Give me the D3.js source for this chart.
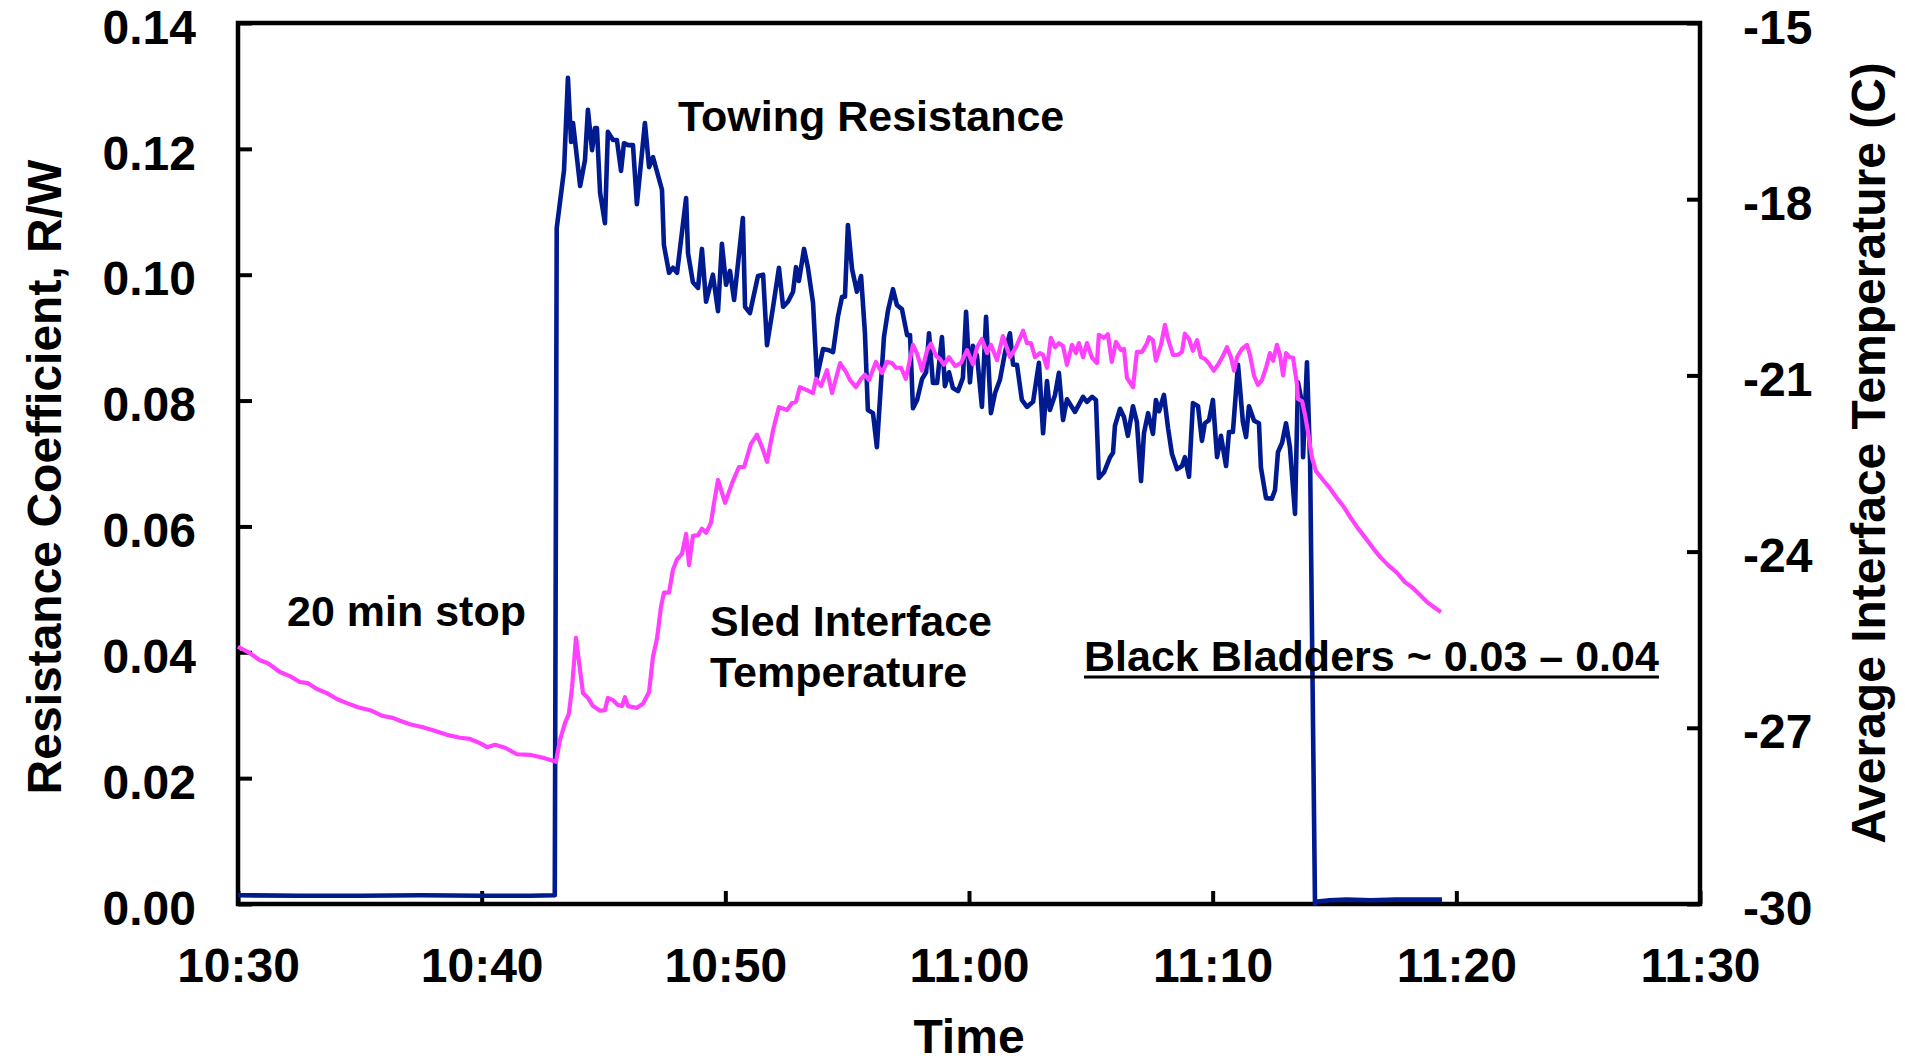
<!DOCTYPE html>
<html>
<head>
<meta charset="utf-8">
<script src="https://cdn.jsdelivr.net/npm/d3@7"></script>
<style>
  body { margin: 0; background: #fff; }
  svg text { font-family: "Liberation Sans", Arial, sans-serif; font-weight: bold; fill: #000; }
</style>
</head>
<body>
<div id="chart"></div>
<script>
// tick labels
const xTickLabels = ["10:30", "10:40", "10:50", "11:00", "11:10", "11:20", "11:30"];
const leftTicks = [0, 0.02, 0.04, 0.06, 0.08, 0.10, 0.12, 0.14];
const rightTicks = [-30, -27, -24, -21, -18, -15];

// towing resistance R/W : [minutes after 10:30, value]
const resistance = [
  [0,0.0014],[2.5,0.0013],[5,0.0013],[7.5,0.0014],[10,0.0013],[12,0.0013],[13.0,0.0014],[13.08,0.1074],
  [13.38,0.1166],[13.54,0.1313],[13.67,0.1211],[13.75,0.1241],[14.04,0.1141],[14.24,0.1182],[14.36,0.1262],
  [14.53,0.1198],[14.65,0.1233],[14.73,0.1233],[14.86,0.1130],[15.06,0.1082],[15.18,0.1227],[15.39,0.1214],
  [15.55,0.1214],[15.72,0.1165],[15.84,0.1209],[16.01,0.1206],[16.21,0.1206],[16.37,0.1112],[16.70,0.1241],
  [16.87,0.1171],[17.03,0.1187],[17.40,0.1135],[17.48,0.1047],[17.69,0.1003],[17.85,0.1011],[18.02,0.1003],
  [18.39,0.1122],[18.47,0.1034],[18.67,0.0988],[18.88,0.0979],[19.04,0.1041],[19.21,0.0957],[19.49,0.1000],
  [19.70,0.0942],[19.86,0.1049],[20.03,0.0984],[20.19,0.1006],[20.36,0.0960],[20.72,0.1090],[20.81,0.0949],
  [21.01,0.0939],[21.34,0.0998],[21.55,0.1000],[21.71,0.0888],[21.96,0.0949],[22.20,0.1011],[22.37,0.0949],
  [22.57,0.0957],[22.78,0.0973],[22.90,0.1012],[23.02,0.0990],[23.23,0.1041],[23.39,0.1011],[23.60,0.0955],
  [23.76,0.0837],[24.01,0.0882],[24.25,0.0880],[24.42,0.0877],[24.62,0.0933],[24.79,0.0965],[24.91,0.0965],
  [25.03,0.1079],[25.20,0.1009],[25.40,0.0973],[25.57,0.0998],[25.73,0.0907],[25.85,0.0785],[26.06,0.0780],
  [26.22,0.0726],[26.51,0.0901],[26.68,0.0944],[26.88,0.0977],[27.04,0.0952],[27.25,0.0945],[27.46,0.0904],
  [27.58,0.0904],[27.70,0.0788],[27.87,0.0801],[28.07,0.0834],[28.24,0.0845],[28.36,0.0907],[28.52,0.0828],
  [28.69,0.0828],[28.89,0.0901],[29.01,0.0823],[29.18,0.0845],[29.34,0.0820],[29.55,0.0815],[29.75,0.0836],
  [29.88,0.0941],[30.04,0.0829],[30.16,0.0887],[30.33,0.0871],[30.53,0.0790],[30.70,0.0933],[30.90,0.0780],
  [31.07,0.0812],[31.27,0.0833],[31.48,0.0877],[31.68,0.0907],[31.81,0.0857],[31.97,0.0857],[32.17,0.0801],
  [32.38,0.0790],[32.63,0.0798],[32.87,0.0860],[33.04,0.0748],[33.20,0.0831],[33.32,0.0785],[33.53,0.0809],
  [33.69,0.0844],[33.86,0.0769],[34.02,0.0802],[34.35,0.0782],[34.68,0.0806],[34.84,0.0798],[35.05,0.0806],
  [35.21,0.0801],[35.33,0.0677],[35.54,0.0686],[35.79,0.0710],[35.91,0.0717],[35.99,0.0760],[36.20,0.0787],
  [36.36,0.0774],[36.52,0.0744],[36.73,0.0791],[36.89,0.0766],[37.06,0.0672],[37.18,0.0748],[37.35,0.0780],
  [37.55,0.0747],[37.67,0.0801],[37.80,0.0783],[38.00,0.0809],[38.17,0.0756],[38.33,0.0715],[38.54,0.0691],
  [38.74,0.0696],[38.86,0.0710],[39.03,0.0679],[39.19,0.0796],[39.40,0.0791],[39.56,0.0736],[39.68,0.0764],
  [39.85,0.0769],[40.01,0.0801],[40.18,0.0710],[40.34,0.0744],[40.55,0.0696],[40.67,0.0750],[40.83,0.0750],
  [41.04,0.0857],[41.24,0.0766],[41.37,0.0742],[41.49,0.0791],[41.70,0.0768],[41.90,0.0764],[41.98,0.0694],
  [42.19,0.0645],[42.43,0.0644],[42.56,0.0658],[42.68,0.0718],[42.85,0.0733],[43.01,0.0764],[43.17,0.0726],
  [43.38,0.0620],[43.50,0.0829],[43.67,0.0796],[43.71,0.0710],[43.87,0.0861],[44.00,0.0700],[44.20,0.0000],
  [44.30,0.0004],[44.8,0.0006],[45.5,0.0007],[46.5,0.0006],[47.5,0.0007],[48.5,0.0007],[49.41,0.0007]
];

// sled interface temperature (C) : [minutes after 10:30, value]
const temperature = [
  [0.00,-25.62],[0.49,-25.73],[0.90,-25.85],[1.23,-25.90],[1.72,-26.05],[2.13,-26.12],[2.54,-26.22],[2.87,-26.24],
  [3.24,-26.34],[3.65,-26.41],[4.06,-26.51],[4.47,-26.58],[4.92,-26.65],[5.42,-26.70],[5.95,-26.80],[6.36,-26.83],
  [6.65,-26.88],[7.06,-26.94],[7.59,-26.99],[8.00,-27.04],[8.58,-27.12],[9.11,-27.17],[9.52,-27.19],[9.93,-27.26],
  [10.22,-27.33],[10.55,-27.29],[10.96,-27.34],[11.45,-27.45],[11.98,-27.46],[12.52,-27.51],[13.05,-27.58],
  [13.21,-27.21],[13.42,-26.92],[13.58,-26.76],[13.71,-26.31],[13.87,-25.47],[14.16,-26.41],[14.36,-26.49],
  [14.57,-26.63],[14.86,-26.71],[15.06,-26.70],[15.18,-26.49],[15.39,-26.53],[15.59,-26.61],[15.76,-26.63],
  [15.88,-26.48],[16.01,-26.63],[16.37,-26.66],[16.62,-26.59],[16.87,-26.39],[17.03,-25.79],[17.20,-25.47],
  [17.36,-24.94],[17.48,-24.70],[17.69,-24.70],[17.85,-24.31],[18.02,-24.13],[18.22,-24.04],[18.39,-23.70],
  [18.51,-24.23],[18.67,-23.73],[18.88,-23.72],[19.04,-23.61],[19.21,-23.68],[19.41,-23.51],[19.53,-23.19],
  [19.70,-22.78],[19.99,-23.17],[20.31,-22.80],[20.56,-22.56],[20.77,-22.56],[21.05,-22.17],[21.30,-22.01],
  [21.55,-22.27],[21.71,-22.47],[21.96,-21.93],[22.20,-21.54],[22.53,-21.59],[22.74,-21.47],[22.90,-21.45],
  [23.06,-21.20],[23.35,-21.25],[23.60,-21.30],[23.72,-21.06],[23.93,-21.18],[24.17,-20.91],[24.38,-21.30],
  [24.71,-20.79],[24.95,-20.94],[25.12,-21.08],[25.36,-21.20],[25.57,-21.06],[25.73,-20.99],[25.90,-21.08],
  [26.18,-20.77],[26.43,-20.96],[26.63,-20.77],[26.84,-20.79],[27.00,-20.87],[27.21,-20.87],[27.41,-21.06],
  [27.70,-20.48],[27.87,-20.63],[28.07,-20.92],[28.28,-20.57],[28.44,-20.46],[28.65,-20.67],[28.81,-20.72],
  [28.97,-20.82],[29.18,-20.69],[29.43,-20.84],[29.67,-20.79],[29.92,-20.57],[30.16,-20.81],[30.33,-20.52],
  [30.53,-20.38],[30.74,-20.62],[30.90,-20.48],[31.15,-20.74],[31.39,-20.33],[31.68,-20.69],[31.93,-20.52],
  [32.22,-20.24],[32.38,-20.45],[32.54,-20.45],[32.71,-20.69],[32.91,-20.62],[33.04,-20.65],[33.20,-20.87],
  [33.36,-20.36],[33.53,-20.52],[33.69,-20.45],[33.86,-20.50],[34.02,-20.82],[34.23,-20.48],[34.39,-20.62],
  [34.51,-20.45],[34.68,-20.69],[34.84,-20.45],[35.05,-20.70],[35.25,-20.79],[35.33,-20.31],[35.54,-20.36],
  [35.70,-20.30],[35.86,-20.77],[36.03,-20.43],[36.24,-20.57],[36.36,-20.55],[36.48,-21.04],[36.73,-21.20],
  [36.89,-20.60],[37.10,-20.60],[37.30,-20.46],[37.39,-20.35],[37.55,-20.40],[37.67,-20.75],[37.88,-20.48],
  [38.04,-20.14],[38.17,-20.38],[38.37,-20.65],[38.58,-20.65],[38.74,-20.60],[38.86,-20.29],[39.03,-20.38],
  [39.19,-20.58],[39.36,-20.40],[39.52,-20.69],[39.68,-20.72],[39.85,-20.80],[40.05,-20.92],[40.26,-20.79],
  [40.42,-20.67],[40.59,-20.52],[40.75,-20.69],[40.88,-20.92],[41.00,-20.69],[41.20,-20.55],[41.41,-20.48],
  [41.53,-20.65],[41.70,-21.01],[41.86,-21.16],[42.02,-21.08],[42.19,-20.87],[42.35,-20.62],[42.48,-20.75],
  [42.64,-20.48],[42.76,-20.65],[42.89,-21.00],[43.01,-20.62],[43.17,-20.69],[43.30,-20.70],[43.46,-21.15],
  [43.50,-21.40],[43.67,-21.44],[43.79,-21.67],[43.91,-21.96],[44.08,-22.41],[44.24,-22.63],[44.53,-22.78],
  [44.81,-22.92],[45.10,-23.09],[45.35,-23.22],[45.72,-23.46],[45.96,-23.60],[46.33,-23.80],[46.58,-23.94],
  [46.87,-24.09],[47.20,-24.23],[47.56,-24.36],[47.89,-24.52],[48.22,-24.62],[48.51,-24.74],[48.80,-24.86],
  [49.13,-24.96],[49.37,-25.03]
];

const width = 1905, height = 1064;
const plotLeft = 238, plotRight = 1700, plotTop = 23, plotBottom = 904;

const parseTime = d3.timeParse("%H:%M");
const start = parseTime(xTickLabels[0]);
const toDate = m => new Date(start.getTime() + m * 60000);

const x = d3.scaleTime()
  .domain([start, parseTime(xTickLabels[xTickLabels.length - 1])])
  .range([plotLeft, plotRight]);
const yL = d3.scaleLinear().domain([0, 0.14]).range([plotBottom, plotTop]);
const yR = d3.scaleLinear().domain([-30, -15]).range([plotBottom, plotTop]);

const svg = d3.select("#chart").append("svg")
  .attr("width", width)
  .attr("height", height);

// axes (ticks point inward)
const xAxis = svg.append("g")
  .attr("transform", `translate(0,${plotBottom})`)
  .call(d3.axisBottom(x)
    .tickValues(xTickLabels.map(parseTime))
    .tickFormat(d3.timeFormat("%H:%M"))
    .tickSize(-13).tickPadding(44));

const leftAxis = svg.append("g")
  .attr("transform", `translate(${plotLeft},0)`)
  .call(d3.axisLeft(yL)
    .tickValues(leftTicks)
    .tickFormat(d3.format(".2f"))
    .tickSize(-14).tickPadding(42));

const rightAxis = svg.append("g")
  .attr("transform", `translate(${plotRight},0)`)
  .call(d3.axisRight(yR)
    .tickValues(rightTicks)
    .tickFormat(d => String(d))   // plain hyphen like the original
    .tickSize(-13).tickPadding(43));

[xAxis, leftAxis, rightAxis].forEach(g => {
  g.select(".domain").remove();
  g.selectAll(".tick line").attr("stroke", "#000").attr("stroke-width", 4);
  g.selectAll(".tick text")
    .style("font-family", '"Liberation Sans", Arial, sans-serif')
    .style("font-weight", "bold")
    .style("font-size", "48px")
    .attr("fill", "#000");
});
leftAxis.selectAll(".tick text").attr("dy", "0.42em");
rightAxis.selectAll(".tick text").attr("dy", "0.42em");

// frame
svg.append("rect")
  .attr("x", plotLeft).attr("y", plotTop)
  .attr("width", plotRight - plotLeft).attr("height", plotBottom - plotTop)
  .attr("fill", "none").attr("stroke", "#000").attr("stroke-width", 4.5);

// series
const resLine = d3.line()
  .x(d => x(toDate(d[0])))
  .y(d => yL(d[1]));
const tempLine = d3.line()
  .x(d => x(toDate(d[0])))
  .y(d => yR(d[1]));

svg.append("path")
  .datum(resistance)
  .attr("d", resLine)
  .attr("fill", "none")
  .attr("stroke", "#001a90")
  .attr("stroke-width", 4.6)
  .attr("stroke-linejoin", "round");

svg.append("path")
  .datum(temperature)
  .attr("d", tempLine)
  .attr("fill", "none")
  .attr("stroke", "#ff40ff")
  .attr("stroke-width", 4.2)
  .attr("stroke-linejoin", "round");

// axis titles
svg.append("text")
  .attr("transform", `translate(61,477) rotate(-90)`)
  .attr("text-anchor", "middle")
  .style("font-size", "48px")
  .text("Resistance Coefficient, R/W");

svg.append("text")
  .attr("transform", `translate(1885,453) rotate(-90)`)
  .attr("text-anchor", "middle")
  .style("font-size", "48px")
  .text("Average Interface Temperature (C)");

svg.append("text")
  .attr("x", (plotLeft + plotRight) / 2).attr("y", 1053)
  .attr("text-anchor", "middle")
  .style("font-size", "48px")
  .text("Time");

// annotations
const notes = [
  { text: "Towing Resistance", x: 678, y: 131 },
  { text: "20 min stop", x: 287, y: 626 },
  { text: "Sled Interface", x: 710, y: 636 },
  { text: "Temperature", x: 710, y: 687 }
];
svg.selectAll("text.note")
  .data(notes)
  .enter().append("text")
  .attr("class", "note")
  .attr("x", d => d.x).attr("y", d => d.y)
  .style("font-size", "43px")
  .text(d => d.text);

const bb = svg.append("text")
  .attr("x", 1084).attr("y", 671)
  .style("font-size", "43px")
  .text("Black Bladders ~ 0.03 \u2013 0.04");
const bbLen = bb.node().getComputedTextLength();
svg.append("line")
  .attr("x1", 1084).attr("x2", 1084 + bbLen)
  .attr("y1", 677).attr("y2", 677)
  .attr("stroke", "#000").attr("stroke-width", 3);
</script>
</body>
</html>
